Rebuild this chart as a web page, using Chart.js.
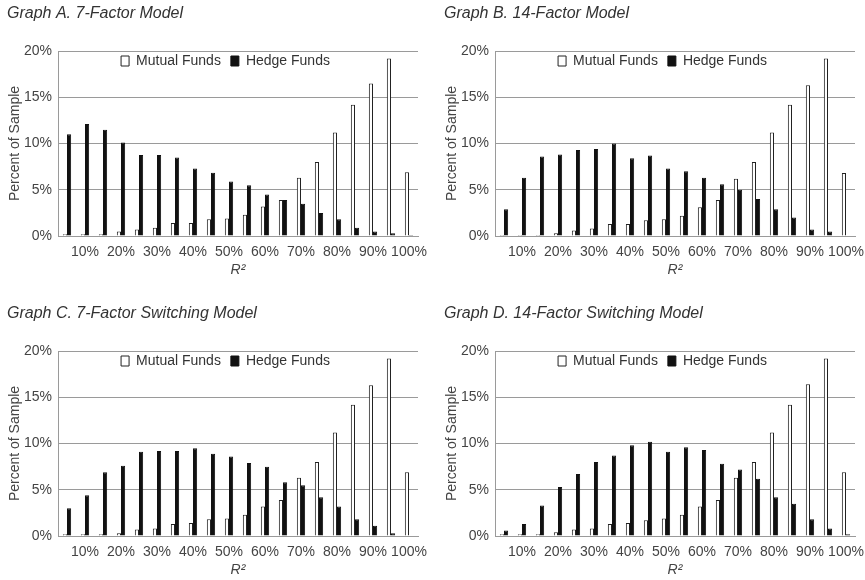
<!DOCTYPE html>
<html>
<head>
<meta charset="utf-8">
<script src="https://cdn.jsdelivr.net/npm/chart.js@4.4.1/dist/chart.umd.min.js"></script>
<style>
  body { margin: 0; background: #fff; width: 865px; height: 580px; position: relative; overflow: hidden; }
  canvas { position: absolute; }
</style>
</head>
<body>
<canvas id="cA" width="428" height="280" style="left:0;top:0"></canvas>
<canvas id="cB" width="428" height="280" style="left:437px;top:0"></canvas>
<canvas id="cC" width="428" height="280" style="left:0;top:300px"></canvas>
<canvas id="cD" width="428" height="280" style="left:437px;top:300px"></canvas>
<script>
// R^2 bins of 5%, only every second bin is labelled
const binLabels = ["", "10%", "", "20%", "", "30%", "", "40%", "", "50%",
                   "", "60%", "", "70%", "", "80%", "", "90%", "", "100%"];
const yTicks = [0, 5, 10, 15, 20];

// Graph A. 7-Factor Model
const mutualA = [0.2, 0.2, 0.2, 0.5, 0.7, 0.9, 1.4, 1.4, 1.8, 1.9,
                 2.3, 3.2, 3.9, 6.3, 8.0, 11.2, 14.2, 16.5, 19.2, 6.9];
const hedgeA = [11.0, 12.1, 11.5, 10.1, 8.75, 8.75, 8.5, 7.3, 6.85, 5.9,
                5.5, 4.5, 3.9, 3.5, 2.5, 1.8, 0.9, 0.5, 0.3, 0.1];

// Graph B. 14-Factor Model
const mutualB = [0.1, 0.1, 0.1, 0.3, 0.6, 0.8, 1.3, 1.3, 1.7, 1.8,
                 2.2, 3.1, 3.9, 6.2, 8.0, 11.2, 14.2, 16.3, 19.2, 6.8];
const hedgeB = [2.9, 6.3, 8.6, 8.8, 9.3, 9.4, 10.0, 8.4, 8.7, 7.3,
                7.0, 6.3, 5.6, 5.0, 4.0, 2.9, 2.0, 0.7, 0.5, 0.05];

// Graph C. 7-Factor Switching Model
const mutualC = [0.2, 0.2, 0.2, 0.3, 0.7, 0.8, 1.3, 1.4, 1.8, 1.9,
                 2.3, 3.2, 3.9, 6.3, 8.0, 11.2, 14.2, 16.3, 19.2, 6.9];
const hedgeC = [3.0, 4.4, 6.9, 7.6, 9.1, 9.2, 9.2, 9.5, 8.9, 8.6,
                7.9, 7.5, 5.8, 5.5, 4.2, 3.2, 1.8, 1.1, 0.3, 0.05];

// Graph D. 14-Factor Switching Model
const mutualD = [0.2, 0.2, 0.2, 0.4, 0.7, 0.8, 1.3, 1.4, 1.7, 1.9,
                 2.3, 3.2, 3.9, 6.3, 8.0, 11.2, 14.2, 16.4, 19.2, 6.9];
const hedgeD = [0.6, 1.3, 3.3, 5.3, 6.7, 8.0, 8.7, 9.8, 10.2, 9.1,
                9.6, 9.3, 7.8, 7.2, 6.2, 4.2, 3.5, 1.8, 0.8, 0.2];

const fontFamily = "'Liberation Sans', Arial, Helvetica, sans-serif";
const textColor = "#444";
const gridColor = "#9a9a9a";

// move the legend from above the plot to just inside its top edge
const legendInside = {
  id: "legendInside",
  afterLayout(chart) {
    const lg = chart.legend;
    const dy = chart.chartArea.top - 7 - lg.top;
    lg.top += dy;
    lg.bottom += dy;
    lg.left += 13;
    lg.right += 13;
  }
};

function makePanel(id, title, mutual, hedge) {
  return new Chart(document.getElementById(id), {
    "type": "bar",
    "data": {
      "labels": binLabels,
      "datasets": [{
        "label": "Mutual Funds",
        "data": mutual,
        "backgroundColor": "#ffffff",
        "borderColor": "#222",
        "borderWidth": 1,
        "categoryPercentage": 0.46,
        "barPercentage": 1
      }, {
        "label": "Hedge Funds",
        "data": hedge,
        "backgroundColor": "#111",
        "borderColor": "#111",
        "borderWidth": 1,
        "categoryPercentage": 0.46,
        "barPercentage": 1
      }]
    },
    "options": {
      "responsive": false,
      "animation": false,
      "layout": { "padding": { "left": 7, "right": 10, "top": 0, "bottom": 0 } },
      "plugins": {
        "title": {
          "display": true,
          "text": title,
          "align": "start",
          "color": "#333",
          "font": { "family": fontFamily, "size": 16, "style": "italic", "weight": "normal" },
          "padding": { "top": 4.4, "bottom": -6.6 }
        },
        "legend": {
          "display": true,
          "position": "top",
          "labels": {
            "color": "#333",
            "boxWidth": 8,
            "boxHeight": 10,
            "padding": 10,
            "font": { "family": fontFamily, "size": 14 }
          }
        },
        "tooltip": { "enabled": false }
      },
      "scales": {
        "x": {
          "grid": { "display": false },
          "border": { "display": true, "color": gridColor },
          "ticks": {
            "autoSkip": false,
            "maxRotation": 0,
            "padding": 0,
            "color": textColor,
            "font": { "family": fontFamily, "size": 14 }
          },
          "title": {
            "display": true,
            "text": "R\u00b2",
            "color": textColor,
            "font": { "family": fontFamily, "size": 14, "style": "italic" },
            "padding": { "top": 2, "bottom": 1 }
          },
          "afterFit": (s) => { s.height = 44; }
        },
        "y": {
          "min": 0,
          "max": 20,
          "afterBuildTicks": (s) => { s.ticks = yTicks.map(v => ({ "value": v })); },
          "grid": { "color": gridColor, "drawTicks": false },
          "border": { "display": true, "color": gridColor },
          "ticks": {
            "padding": 6,
            "color": textColor,
            "font": { "family": fontFamily, "size": 14 },
            "callback": (v) => v + "%"
          },
          "title": {
            "display": true,
            "text": "Percent of Sample",
            "color": textColor,
            "font": { "family": fontFamily, "size": 14 },
            "padding": 0
          },
          "afterFit": (s) => { s.width = 51; }
        }
      }
    },
    "plugins": [legendInside]
  });
}

makePanel("cA", "Graph A. 7-Factor Model", mutualA, hedgeA);
makePanel("cB", "Graph B. 14-Factor Model", mutualB, hedgeB);
makePanel("cC", "Graph C. 7-Factor Switching Model", mutualC, hedgeC);
makePanel("cD", "Graph D. 14-Factor Switching Model", mutualD, hedgeD);
</script>
</body>
</html>
